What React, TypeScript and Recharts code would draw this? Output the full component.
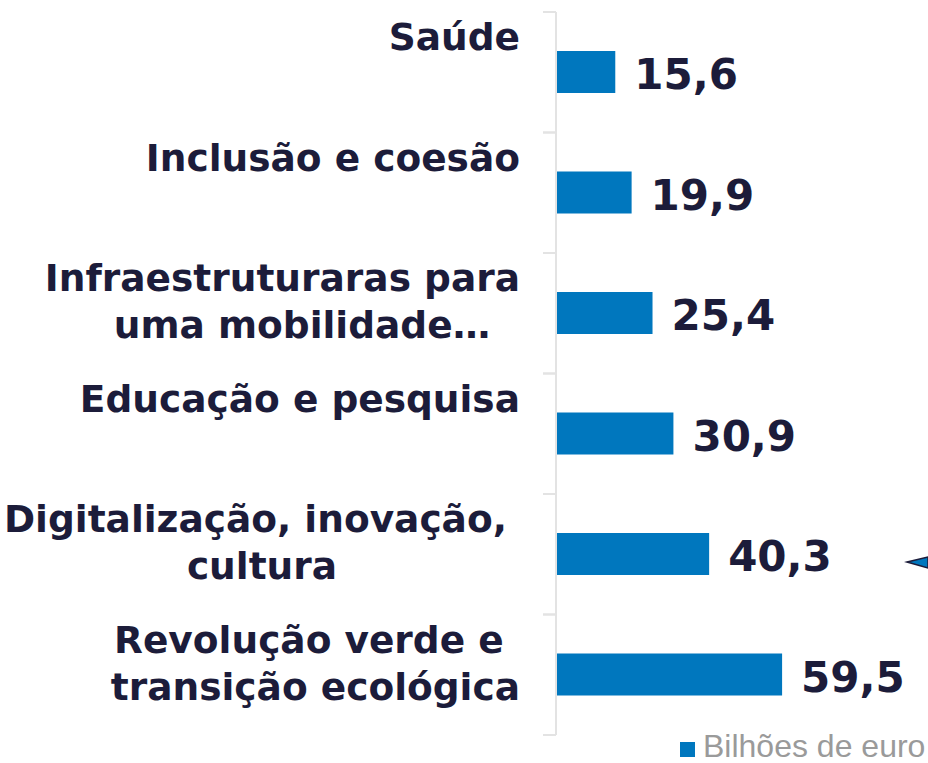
import { BarChart, Bar, XAxis, YAxis, LabelList } from 'recharts'

const categories = [
  'Saúde',
  'Inclusão e coesão',
  'Infraestruturaras para|\u00a0\u00a0\u00a0uma mobilidade…',
  'Educação e pesquisa',
  'Digitalização, inovação,\u00a0|cultura',
  'Revolução verde e\u00a0|transição ecológica',
]
const values = [15.6, 19.9, 25.4, 30.9, 40.3, 59.5]
const seriesName = 'Bilhões de euro'
const xDomain = [0, 70]

const data = categories.map((name, i) => ({ name, value: values[i] }))

const W = 928
const H = 763
const TOP = 12
const BOTTOM = 28
const AXIS_X = 556
const BAND = (H - TOP - BOTTOM) / categories.length
const NAVY = '#1c1c3a'
const BLUE = '#0077be'
const LABEL_FONT = 'bold 37.5px "DejaVu Sans"'

let ctx: CanvasRenderingContext2D | null = null
function measure(text: string) {
  if (!ctx) ctx = document.createElement('canvas').getContext('2d')
  if (!ctx) return text.length * 22
  ctx.font = LABEL_FONT
  return ctx.measureText(text).width
}

function CategoryTick(props: any) {
  const { y, payload } = props
  const lines: string[] = String(payload.value).split('|')
  const maxW = Math.max(...lines.map(measure))
  const right = 520
  const cx = right - maxW / 2
  return (
    <g>
      <line x1={AXIS_X - 13} x2={AXIS_X} y1={y - BAND / 2} y2={y - BAND / 2} stroke="#e3e3e3" strokeWidth={2} />
      <line x1={AXIS_X - 13} x2={AXIS_X} y1={y + BAND / 2} y2={y + BAND / 2} stroke="#e3e3e3" strokeWidth={2} />
      {lines.map((l, i) => (
        <text
          key={i}
          x={lines.length > 1 ? cx : right}
          y={y - 22 + i * 47}
          textAnchor={lines.length > 1 ? 'middle' : 'end'}
          fill={NAVY}
          style={{ font: LABEL_FONT, whiteSpace: 'pre' }}
        >
          {l}
        </text>
      ))}
    </g>
  )
}

function ValueLabel(props: any) {
  const { x, y, width, height, value } = props
  return (
    <text
      x={x + width + 19}
      y={y + height / 2 + 17}
      fill={NAVY}
      style={{ font: 'bold 42px "DejaVu Sans"' }}
    >
      {Number(value).toFixed(1).replace('.', ',')}
    </text>
  )
}

export default function App() {
  return (
    <div style={{ position: 'absolute', left: 0, top: 0, width: W, height: H, background: '#fff', overflow: 'hidden' }}>
      <BarChart
        width={W}
        height={H}
        data={data}
        layout="vertical"
        margin={{ top: TOP, right: W - AXIS_X - 266, bottom: BOTTOM, left: 0 }}
      >
        <XAxis type="number" domain={xDomain} hide />
        <YAxis
          type="category"
          dataKey="name"
          width={AXIS_X}
          axisLine={{ stroke: '#e3e3e3', strokeWidth: 2 }}
          tickLine={false}
          tick={<CategoryTick />}
          interval={0}
        />
        <Bar dataKey="value" name={seriesName} fill={BLUE} barSize={42} isAnimationActive={false}>
          <LabelList dataKey="value" content={<ValueLabel />} />
        </Bar>
      </BarChart>
      <svg width={W} height={H} style={{ position: 'absolute', left: 0, top: 0, pointerEvents: 'none' }}>
        <polygon points="907,562 928,557 928,568" fill={BLUE} stroke={NAVY} strokeWidth={1.5} />
        <rect x={680} y={742} width={15} height={15} fill={BLUE} />
        <text x={703} y={757} fill="#9a9a9a" style={{ fontFamily: '"Liberation Sans", Arial, sans-serif', fontSize: 32 }}>
          {seriesName}
        </text>
      </svg>
    </div>
  )
}
